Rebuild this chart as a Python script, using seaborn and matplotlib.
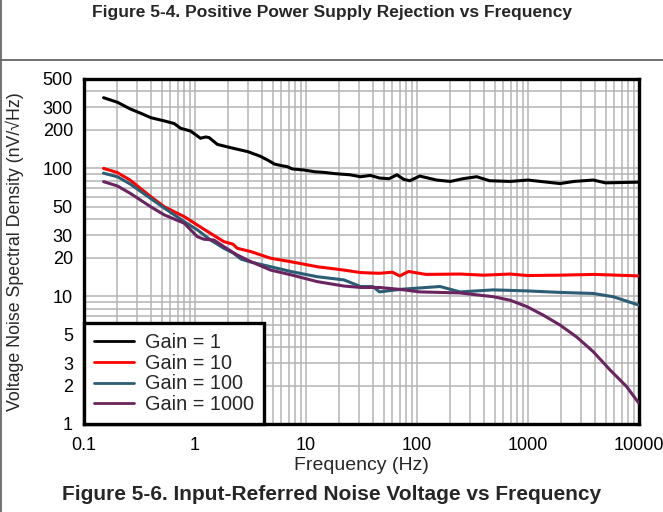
import matplotlib.pyplot as plt
import pandas as pd
import seaborn as sns
from matplotlib.lines import Line2D
from matplotlib.ticker import LogLocator, NullFormatter

sns.set_style('white')
plt.rcParams['font.family'] = ['Liberation Sans', 'DejaVu Sans']

# Data (frequency in Hz, noise in nV/rtHz)
gain_labels = ['Gain = 1', 'Gain = 10', 'Gain = 100', 'Gain = 1000']
gain_colors = ['#000000', '#ff0000', '#2b5e75', '#6a2460']

freq_g1 = [0.15, 0.2, 0.26, 0.33, 0.4, 0.53, 0.65, 0.74, 0.91, 1.12, 1.25, 1.34, 1.59, 2.1,
           3.0, 3.9, 4.6, 5.2, 6.0, 6.8, 7.5, 9.6, 12, 14.5, 18, 25, 31, 38, 46, 56,
           66, 76, 86, 106, 150, 200, 260, 345, 450, 690, 1000, 1940, 2600, 3870, 5000,
           10000]
noise_g1 = [357, 329, 292, 268, 249, 235, 224, 206, 196, 172, 176, 174, 154, 145,
            135, 124, 115, 108, 105, 103, 99, 97, 94, 93, 91, 89, 86, 88, 84, 83,
            89, 82, 80, 87, 81, 79, 83, 86, 80, 79, 81, 76, 79, 81, 77,
            78]

freq_g10 = [0.15, 0.2, 0.26, 0.4, 0.53, 0.8, 1.05, 1.38, 1.82, 2.2, 2.4, 3.2, 4.8, 7.3,
            12.6, 22, 31, 46, 60, 70, 84, 120, 244, 400, 690, 1000, 1940, 4000, 10000]
noise_g10 = [100, 92.6, 81, 60, 50, 41.9, 36, 31, 26.7, 25.5, 23.7, 22.3, 19.8, 18.6,
             17, 16, 15.3, 15.1, 15.4, 14.4, 15.6, 14.8, 14.9, 14.6, 14.9, 14.5, 14.6,
             14.8, 14.4]

freq_g100 = [0.15, 0.2, 0.26, 0.4, 0.53, 0.8, 1.05, 1.38, 1.82, 2.2, 2.6, 3.1, 4.8, 7.3,
             12.6, 22, 31, 40, 46, 70, 161, 244, 488, 973, 1940, 3870, 5860, 10000]
noise_g100 = [91.6, 86, 75.5, 58, 48.8, 38.3, 33, 27.5, 23.7, 21.8, 19.5, 18.6, 17, 15.6,
              14.2, 13.4, 11.9, 11.9, 10.8, 11.3, 11.9, 10.8, 11.2, 11.0, 10.7, 10.5, 9.9,
              8.5]

freq_g1000 = [0.15, 0.2, 0.26, 0.4, 0.53, 0.8, 1.05, 1.2, 1.48, 1.82, 2.4, 3.2, 4.8, 7.3,
              12.6, 22, 31, 46, 70, 106, 244, 488, 690, 973, 1375, 1940, 2740, 3870,
              5480, 7740, 10000]
noise_g1000 = [78.7, 72.8, 63.9, 50, 43.2, 37.2, 29.2, 27.9, 27.5, 24.4, 21, 18.6, 16, 14.7,
               13, 12.0, 11.7, 11.7, 11.3, 10.8, 10.6, 9.9, 9.3, 8.3, 7.1, 5.95, 4.8, 3.68,
               2.65, 1.96, 1.45]

x_ticks = [0.1, 1, 10, 100, 1000, 10000]
x_tick_labels = ['0.1', '1', '10', '100', '1000', '10000']
y_ticks = [1, 2, 3, 5, 10, 20, 30, 50, 100, 200, 300, 500]
y_tick_labels = ['1', '2', '3', '5', '10', '20', '30', '50', '100', '200', '300', '500']

frames = []
for lab, f, v in zip(gain_labels,
                     [freq_g1, freq_g10, freq_g100, freq_g1000],
                     [noise_g1, noise_g10, noise_g100, noise_g1000]):
    frames.append(pd.DataFrame({'freq': f, 'noise': v, 'gain': lab}))
df = pd.concat(frames, ignore_index=True)

fig = plt.figure(figsize=(6.63, 5.12), dpi=100)
ax = fig.add_axes([84 / 663, 1 - 424 / 512, 555 / 663, 345 / 512])

sns.lineplot(data=df, x='freq', y='noise', hue='gain', hue_order=gain_labels,
             palette=gain_colors, estimator=None, lw=2.2, ax=ax, zorder=3)

ax.set_xscale('log')
ax.set_yscale('log')
ax.set_xlim(0.1, 10000)
ax.set_ylim(1, 500)
ax.set_xticks(x_ticks)
ax.set_xticklabels(x_tick_labels)
ax.set_yticks(y_ticks)
ax.set_yticklabels(y_tick_labels)
ax.xaxis.set_minor_locator(LogLocator(base=10, subs=range(2, 10)))
ax.yaxis.set_minor_locator(LogLocator(base=10, subs=[4, 6, 7, 8, 9]))
ax.xaxis.set_minor_formatter(NullFormatter())
ax.yaxis.set_minor_formatter(NullFormatter())
ax.grid(which='both', color='#b4b4b4', lw=1.1)
ax.set_axisbelow(True)
ax.tick_params(which='both', length=0, labelsize=13, colors='black')
ax.tick_params(axis='x', pad=9)
ax.tick_params(axis='y', pad=8)
for s in ax.spines.values():
    s.set_color('black')
    s.set_linewidth(2.4)

ax.set_xlabel('Frequency (Hz)', fontsize=14)
ax.set_ylabel('Voltage Noise Spectral Density (nV/\u221aHz)', fontsize=12.8)
ax.xaxis.set_label_coords(0.5, -0.119)
ax.xaxis.label.set_va('center')
ax.yaxis.set_label_coords(-0.124, 0.5)
ax.yaxis.label.set_va('center')

leg = ax.legend(loc='lower left', borderaxespad=0, fancybox=False, edgecolor='black',
                framealpha=1, fontsize=14.3, handlelength=2.0, handletextpad=0.55,
                labelspacing=0.08, borderpad=0.5)
leg.get_frame().set_linewidth(2.4)
for h in leg.get_lines():
    h.set_linewidth(2)

fig.text(0.5, 1 - 13 / 512, 'Figure 5-4. Positive Power Supply Rejection vs Frequency',
         ha='center', va='center', fontsize=12.5, fontweight='bold')
fig.text(332 / 663, 1 - 494 / 512, 'Figure 5-6. Input-Referred Noise Voltage vs Frequency',
         ha='center', va='center', fontsize=15, fontweight='bold')
fig.add_artist(Line2D([0, 1], [1 - 60 / 512] * 2, transform=fig.transFigure,
                      color='#666666', lw=1.3))
fig.add_artist(Line2D([0.002, 0.002], [0, 1], transform=fig.transFigure,
                      color='#666666', lw=1.3))

fig.savefig('out.png', dpi=100)
